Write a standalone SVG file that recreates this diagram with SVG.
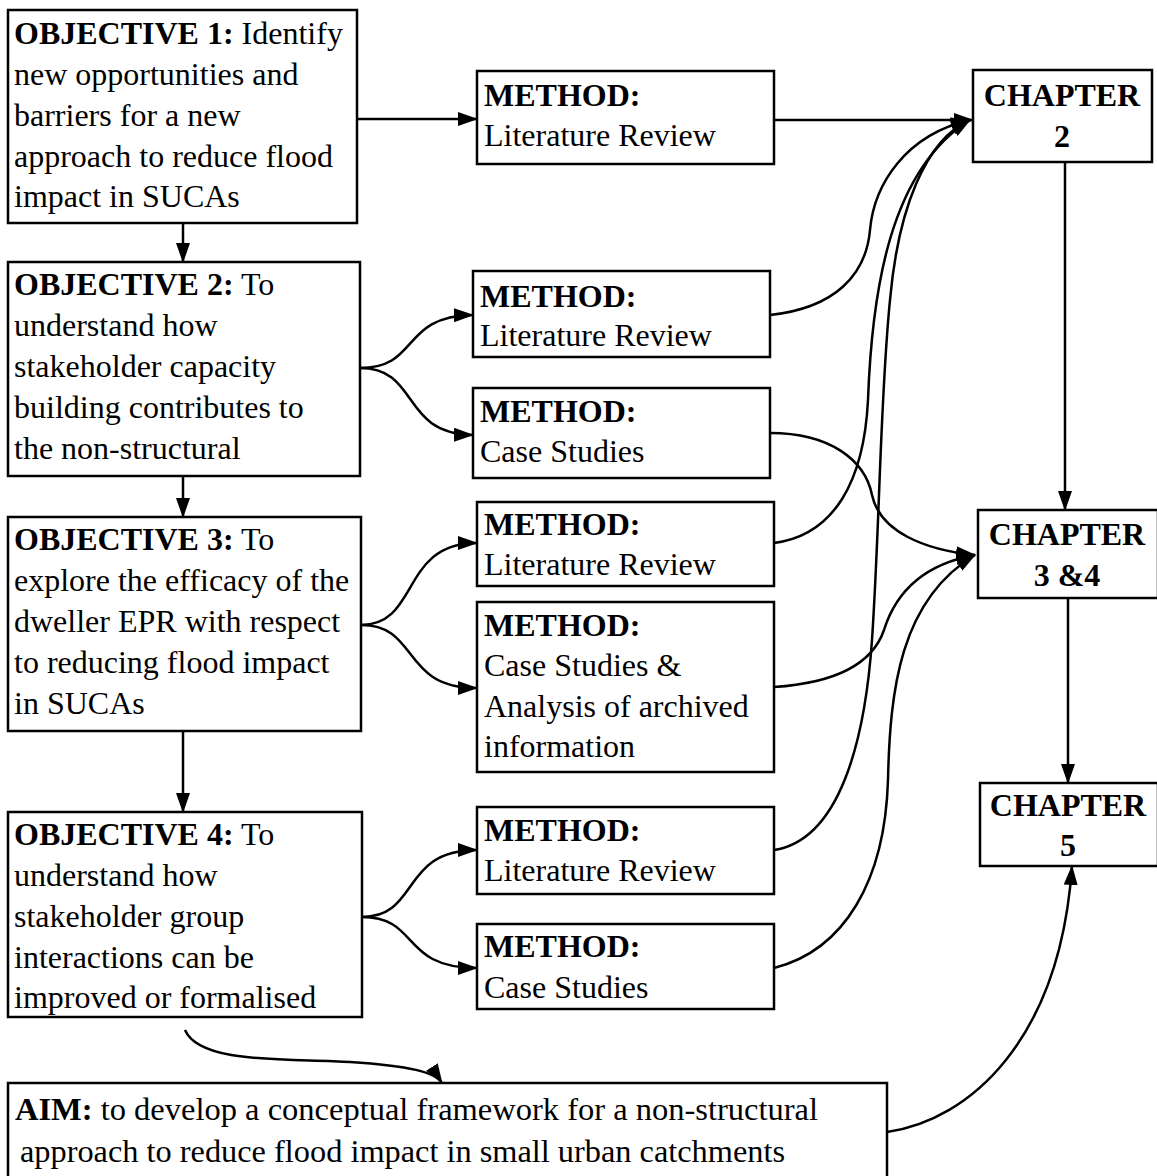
<svg xmlns="http://www.w3.org/2000/svg" width="1157" height="1176" viewBox="0 0 1157 1176">
<defs>
<marker id="arr" viewBox="0 0 20 14" refX="19" refY="7" markerWidth="20" markerHeight="14" markerUnits="userSpaceOnUse" orient="auto">
<path d="M0,0 L20,7 L0,14 Z" fill="#000"/>
</marker>
<style>
rect{fill:#fff;stroke:#000;stroke-width:2.5}
text{font-family:"Liberation Serif","Times New Roman",serif;font-size:32px;fill:#000}
.b{font-weight:bold}
.c{text-anchor:middle;font-weight:bold}
#connectors path{fill:none;stroke:#000;stroke-width:2.5;marker-end:url(#arr)}
</style>
</defs>
<rect x="0" y="0" width="1157" height="1176" style="fill:#fff;stroke:none"/>
<g id="connectors">
<path d="M357,119 L477,119"/>
<path d="M774,120 L973,120"/>
<path d="M183,223 L183,262"/>
<path d="M183,476 L183,517"/>
<path d="M183,731 L183,812"/>
<path d="M1065,162 L1065,510"/>
<path d="M1068,598 L1068,783"/>
<path d="M360,368 C420,368 400,316 473,315"/>
<path d="M360,368 C420,368 400,434 473,435"/>
<path d="M361,625 C420,625 400,543 477,543"/>
<path d="M361,625 C420,625 400,688 477,688"/>
<path d="M362,917 C420,917 400,850 477,850"/>
<path d="M362,917 C420,917 400,968 477,968"/>
<path d="M770,315 C835,308 866,275 870,230 C874,185 905,135 970,120"/>
<path d="M774,543 C835,535 864,480 868,400 C872,290 890,170 970,120"/>
<path d="M774,850 C840,840 865,740 872,640 C880,520 880,400 890,300 C898,210 925,140 970,120"/>
<path d="M770,433 C830,433 865,460 872,495 C880,532 925,550 975,555"/>
<path d="M774,687 C835,683 872,665 884,630 C895,595 920,565 975,555"/>
<path d="M774,968 C845,950 885,880 888,780 C890,690 900,600 975,555"/>
<path d="M185,1030 C200,1065 290,1058 350,1062 C410,1066 435,1072 442,1083"/>
<path d="M887,1132 C970,1120 1060,1040 1072,866"/>
</g>
<g id="obj1"><rect x="8" y="10" width="349" height="213"/>
<text x="14" y="44"><tspan class="b">OBJECTIVE 1:</tspan> Identify</text>
<text x="14" y="85">new opportunities and</text>
<text x="14" y="126">barriers for a new</text>
<text x="14" y="167">approach to reduce flood</text>
<text x="14" y="207">impact in SUCAs</text></g>
<g id="obj2"><rect x="8" y="262" width="352" height="214"/>
<text x="14" y="295"><tspan class="b">OBJECTIVE 2:</tspan> To</text>
<text x="14" y="336">understand how</text>
<text x="14" y="377">stakeholder capacity</text>
<text x="14" y="418">building contributes to</text>
<text x="14" y="459">the non-structural</text></g>
<g id="obj3"><rect x="8" y="517" width="353" height="214"/>
<text x="14" y="550"><tspan class="b">OBJECTIVE 3:</tspan> To</text>
<text x="14" y="591">explore the efficacy of the</text>
<text x="14" y="632">dweller EPR with respect</text>
<text x="14" y="673">to reducing flood impact</text>
<text x="14" y="714">in SUCAs</text></g>
<g id="obj4"><rect x="8" y="812" width="354" height="205"/>
<text x="14" y="845"><tspan class="b">OBJECTIVE 4:</tspan> To</text>
<text x="14" y="886">understand how</text>
<text x="14" y="927">stakeholder group</text>
<text x="14" y="968">interactions can be</text>
<text x="14" y="1008">improved or formalised</text></g>
<g id="aim"><rect x="8" y="1083" width="879" height="100"/>
<text x="15" y="1120" textLength="803" lengthAdjust="spacingAndGlyphs"><tspan class="b">AIM:</tspan> to develop a conceptual framework for a non-structural</text>
<text x="20" y="1162" textLength="765" lengthAdjust="spacingAndGlyphs">approach to reduce flood impact in small urban catchments</text></g>
<g id="m1"><rect x="477" y="71" width="297" height="93"/>
<text x="484" y="106" class="b">METHOD:</text><text x="484" y="146">Literature Review</text></g>
<g id="m2"><rect x="473" y="271" width="297" height="86"/>
<text x="480" y="307" class="b">METHOD:</text><text x="480" y="346">Literature Review</text></g>
<g id="m3"><rect x="473" y="388" width="297" height="90"/>
<text x="480" y="422" class="b">METHOD:</text><text x="480" y="462">Case Studies</text></g>
<g id="m4"><rect x="477" y="502" width="297" height="84"/>
<text x="484" y="535" class="b">METHOD:</text><text x="484" y="575">Literature Review</text></g>
<g id="m5"><rect x="477" y="602" width="297" height="170"/>
<text x="484" y="636" class="b">METHOD:</text><text x="484" y="676">Case Studies &amp;</text>
<text x="484" y="717">Analysis of archived</text><text x="484" y="757">information</text></g>
<g id="m6"><rect x="477" y="807" width="297" height="87"/>
<text x="484" y="841" class="b">METHOD:</text><text x="484" y="881">Literature Review</text></g>
<g id="m7"><rect x="477" y="924" width="297" height="85"/>
<text x="484" y="957" class="b">METHOD:</text><text x="484" y="998">Case Studies</text></g>
<g id="ch2"><rect x="973" y="70" width="179" height="92"/>
<text x="1062" y="106" class="c">CHAPTER</text><text x="1062" y="147" class="c">2</text></g>
<g id="ch34"><rect x="978" y="510" width="180" height="88"/>
<text x="1067" y="545" class="c">CHAPTER</text><text x="1067" y="586" class="c">3 &amp;4</text></g>
<g id="ch5"><rect x="980" y="783" width="178" height="83"/>
<text x="1068" y="816" class="c">CHAPTER</text><text x="1068" y="856" class="c">5</text></g>
</svg>
